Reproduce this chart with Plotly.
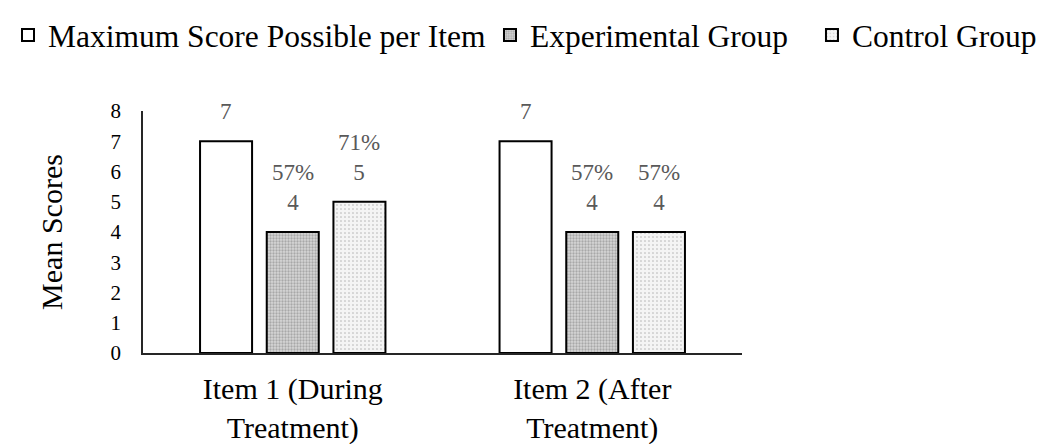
import plotly.graph_objects as go

categories = ["Item 1 (During<br>Treatment)", "Item 2 (After<br>Treatment)"]
series_names = ["Maximum Score Possible per Item", "Experimental Group", "Control Group"]
max_scores = [7, 7]
experimental = [4, 4]
control = [5, 4]
label_max = ["7", "7"]
label_exp = ["57%<br>4", "57%<br>4"]
label_ctrl = ["71%<br>5", "57%<br>4"]

FONT = "Liberation Serif, Times New Roman, serif"
# page body adds an 8px offset, so the figure is drawn 8px smaller
W, H = 1039, 436
ML, MR, MT, MB = 135, 305, 103, 91
BARGAP = 0.332
GROUPGAP = 0.22

fig = go.Figure()
values = [max_scores, experimental, control]
labels = [label_max, label_exp, label_ctrl]
patterns = [
    dict(fill="white", pattern=None),
    dict(fill="#d6d6d6", pattern=dict(shape=".", fgcolor="#7a7a7a", bgcolor="#d6d6d6", size=3, solidity=0.45)),
    dict(fill="white", pattern=dict(shape=".", fgcolor="#6a6a6a", bgcolor="#f4f4f4", size=4, solidity=0.12)),
]
legend_ids = ["legend", "legend2", "legend3"]
legend_x = [0.0, 0.4639, 0.7738]
for name, vals, st, lid in zip(series_names, values, patterns, legend_ids):
    marker = dict(color=st["fill"], line=dict(color="black", width=2))
    if st["pattern"]:
        marker["pattern"] = st["pattern"]
    fig.add_trace(go.Bar(name=name, x=categories, y=vals, marker=marker, legend=lid))

# data labels via annotations anchored to data values
plot_w = W - ML - MR
slot = plot_w / len(categories) * (1 - BARGAP) / len(series_names)
for i, (vals, labs) in enumerate(zip(values, labels)):
    for c, v, t in zip(categories, vals, labs):
        fig.add_annotation(x=c, y=v, xref="x", yref="y", text=t, showarrow=False,
                           yanchor="bottom", yshift=15, xshift=(i - 1) * slot,
                           font=dict(family=FONT, size=23, color="#595959"))

legend_style = dict(orientation="h", xref="container", yref="container", y=1,
                    xanchor="left", yanchor="top",
                    font=dict(family=FONT, size=31.5, color="black"),
                    bgcolor="rgba(0,0,0,0)", itemwidth=30)
layout_legends = {lid: dict(legend_style, x=lx) for lid, lx in zip(legend_ids, legend_x)}

fig.update_layout(
    width=W, height=H,
    margin=dict(l=ML, r=MR, t=MT, b=MB),
    paper_bgcolor="white", plot_bgcolor="white",
    barmode="group", bargap=BARGAP, bargroupgap=GROUPGAP,
    font=dict(family=FONT, color="black"),
    showlegend=True,
    **layout_legends,
)
fig.update_yaxes(range=[0, 8], dtick=1, showgrid=False, zeroline=False,
                 showline=True, linecolor="#262626", linewidth=1.75,
                 ticks="", ticklabelstandoff=16,
                 tickfont=dict(family=FONT, size=21, color="black"),
                 title=dict(text="Mean Scores", font=dict(family=FONT, size=30, color="black"), standoff=39))
fig.update_xaxes(showgrid=False, showline=True, linecolor="#262626", linewidth=1.75,
                 ticks="", ticklabelstandoff=8, automargin=False,
                 tickfont=dict(family=FONT, size=30, color="black"))

fig.write_html("out.html")
